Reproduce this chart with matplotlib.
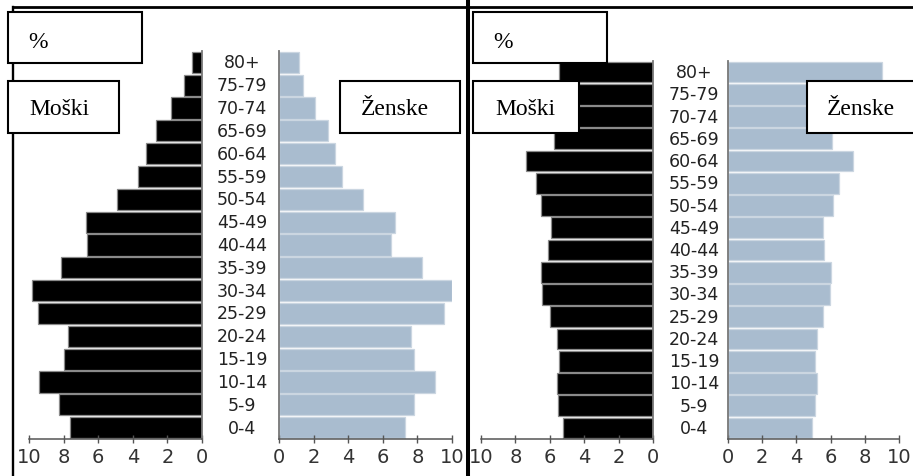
import matplotlib
matplotlib.use("Agg")
import matplotlib.pyplot as plt
from matplotlib.patches import Rectangle
from matplotlib.lines import Line2D
import matplotlib.transforms as mtransforms

# ---- data ----
age_groups = ["0-4", "5-9", "10-14", "15-19", "20-24", "25-29", "30-34", "35-39",
              "40-44", "45-49", "50-54", "55-59", "60-64", "65-69", "70-74", "75-79", "80+"]
male_left = [7.63, 8.25, 9.42, 7.98, 7.73, 9.46, 9.84, 8.17,
             6.63, 6.70, 4.90, 3.72, 3.25, 2.66, 1.80, 1.04, 0.60]
female_left = [7.28, 7.80, 9.02, 7.80, 7.65, 9.52, 10.0, 8.25,
               6.47, 6.70, 4.84, 3.62, 3.24, 2.81, 2.10, 1.41, 1.17]
male_right = [5.25, 5.50, 5.56, 5.47, 5.56, 5.99, 6.44, 6.51,
              6.09, 5.93, 6.53, 6.82, 7.40, 5.76, 5.00, 5.10, 5.45]
female_right = [4.89, 5.10, 5.19, 5.09, 5.19, 5.54, 5.96, 6.02,
                5.63, 5.54, 6.16, 6.51, 7.33, 6.06, 5.90, 6.10, 9.02]
x_ticks = [0, 2, 4, 6, 8, 10]
box_pct = "%"
box_male = "Moški"
box_female = "Ženske"

W, H = 913, 477
fig = plt.figure(figsize=(W / 100, H / 100), dpi=100)
fig.patch.set_facecolor("white")

MALE_C = "#000000"
FEMALE_C = "#a9bccf"
AXIS_C = "#555555"
TXT_C = "#222222"


def rect(x0, yt, x1, yb):
    return [x0 / W, 1 - yb / H, (x1 - x0) / W, (yb - yt) / H]


def style_axis(ax, male):
    ax.set_xlim(10, 0) if male else ax.set_xlim(0, 10)
    ax.set_ylim(-0.5, len(age_groups) - 0.5)
    ax.set_xticks(x_ticks)
    ax.set_xticklabels([str(t) for t in x_ticks])
    ax.set_yticks([])
    for s in ["top", "left", "right"]:
        ax.spines[s].set_visible(False)
    ax.spines["bottom"].set_color(AXIS_C)
    ax.spines["bottom"].set_linewidth(1.1)
    side = "right" if male else "left"
    ax.spines[side].set_visible(True)
    ax.spines[side].set_color("#777777")
    ax.spines[side].set_linewidth(1.3)
    ax.tick_params(axis="x", direction="inout", length=6, width=1.0,
                   color=AXIS_C, labelsize=14, labelcolor="#333333", pad=2.5)
    ax.patch.set_alpha(0)


ypos = list(range(len(age_groups)))


def panel(x_m0, x_m1, x_f0, x_f1, ytop, ybot, males, females, label_x):
    axm = fig.add_axes(rect(x_m0, ytop, x_m1, ybot))
    axf = fig.add_axes(rect(x_f0, ytop, x_f1, ybot))
    axm.barh(ypos, males, height=0.93, color=MALE_C, edgecolor="#8a8a8a", linewidth=0.9)
    axf.barh(ypos, females, height=0.93, color=FEMALE_C, edgecolor="#cbd6e1", linewidth=0.9)
    style_axis(axm, True)
    style_axis(axf, False)
    tr = mtransforms.blended_transform_factory(fig.transFigure, axf.transData)
    for y, lab in zip(ypos, age_groups):
        fig.text(label_x / W, y, lab, transform=tr, ha="center", va="center",
                 fontsize=12.5, color=TXT_C, family="DejaVu Sans")
    return axm, axf


panel(29, 202, 279, 452, 52, 440, male_left, female_left, 242)
panel(481, 653, 728, 899, 62, 440, male_right, female_right, 694)

# ---- frame lines ----
fig.add_artist(Line2D([13 / W, 1.0], [1 - 8 / H, 1 - 8 / H], color="black", lw=2.0,
                      transform=fig.transFigure))
fig.add_artist(Line2D([13 / W, 13 / W], [0, 1 - 8 / H], color="black", lw=1.7,
                      transform=fig.transFigure))
fig.add_artist(Line2D([468 / W, 468 / W], [0, 1], color="black", lw=2.9,
                      transform=fig.transFigure))

# ---- text boxes ----
boxes = [
    ((8, 13, 142, 64), box_pct, 28, 48),
    ((8, 82, 119, 134), box_male, 29, 115),
    ((340, 82, 460, 134), box_female, 361, 115),
    ((473, 13, 607, 64), box_pct, 493, 48),
    ((473, 82, 579, 134), box_male, 495, 115),
    ((807, 82, 925, 134), box_female, 827, 115),
]
for (x0, yt, x1, yb), txt, tx, ty in boxes:
    fig.add_artist(Rectangle((x0 / W, 1 - yb / H), (x1 - x0) / W, (yb - yt) / H,
                             transform=fig.transFigure, facecolor="white",
                             edgecolor="black", linewidth=1.5, zorder=5))
    fig.text(tx / W, 1 - ty / H, txt, ha="left", va="baseline", fontsize=17,
             family="Liberation Serif", color="black", zorder=6)

fig.savefig("out.png", dpi=100, facecolor="white")
